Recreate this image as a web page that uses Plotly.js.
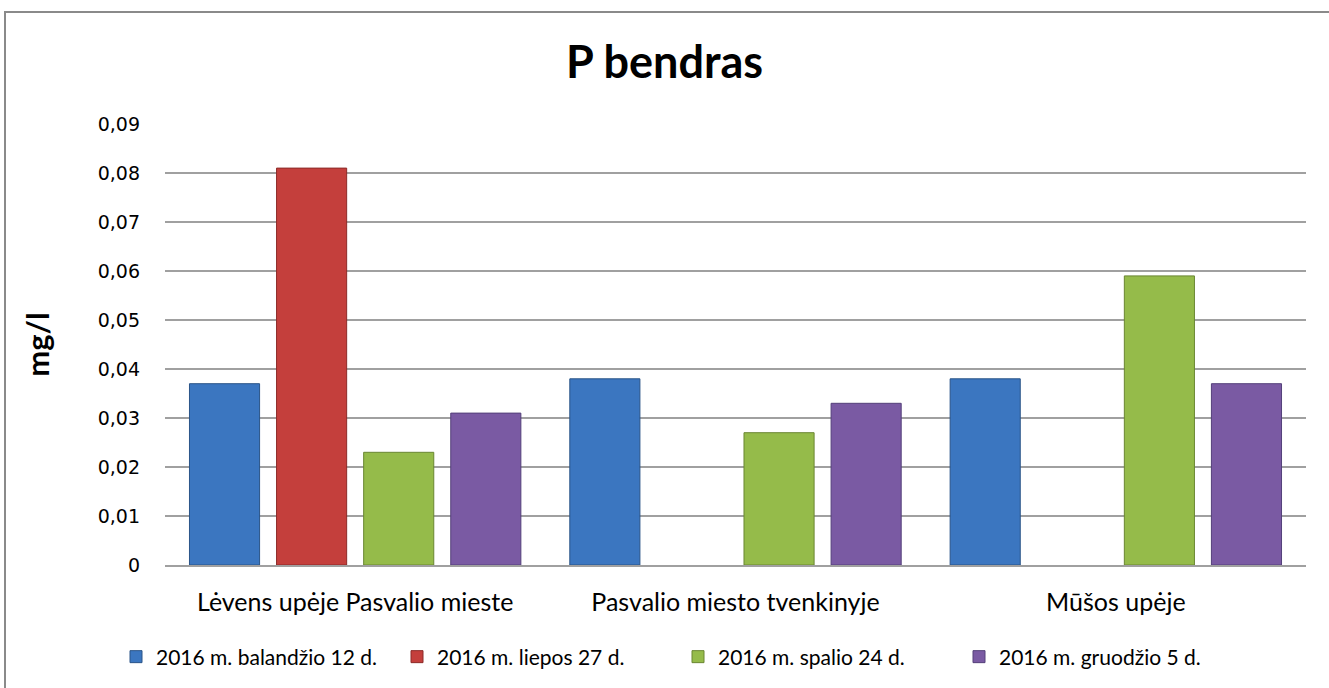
<!DOCTYPE html>
<html>
<head>
<meta charset="utf-8">
<script src="https://cdn.plot.ly/plotly-3.0.1.min.js"></script>
<style>
  html, body { margin: 0; padding: 0; background: #fff; overflow: hidden; }
  #chart { width: 1329px; height: 688px; }
  #frame { position: absolute; left: 4px; top: 11px; width: 1400px; height: 800px;
           border: 2px solid #8a8a8a; pointer-events: none; box-sizing: border-box; }
</style>
</head>
<body>
<div id="chart"></div>
<div id="frame"></div>
<script>
const categories = ["Lėvens upėje Pasvalio mieste", "Pasvalio miesto tvenkinyje", "Mūšos upėje"];
const seriesNames = ["2016 m. balandžio 12 d.", "2016 m. liepos 27 d.", "2016 m. spalio 24 d.", "2016 m. gruodžio 5 d."];
const balandzio = [0.037, 0.038, 0.038];
const liepos = [0.081, null, null];
const spalio = [0.023, 0.027, 0.059];
const gruodzio = [0.031, 0.033, 0.037];
const yTickVals = [0, 0.01, 0.02, 0.03, 0.04, 0.05, 0.06, 0.07, 0.08, 0.09];
const yTickText = ["0", "0,01", "0,02", "0,03", "0,04", "0,05", "0,06", "0,07", "0,08", "0,09"];

const fills = ["#3b76c0", "#c43f3c", "#95bb4a", "#7a5aa3"];
const edges = ["#2a5488", "#8c2a28", "#6a8632", "#54407a"];
const values = [balandzio, liepos, spalio, gruodzio];

const traces = values.map((v, i) => ({
  type: "bar",
  name: seriesNames[i],
  x: categories,
  y: v,
  marker: { color: fills[i], line: { color: edges[i], width: 1 } },
  hoverinfo: "skip"
}));

const layout = {
  width: 1329, height: 688,
  margin: { l: 165, r: 23, t: 124, b: 123 },
  paper_bgcolor: "#ffffff", plot_bgcolor: "#ffffff",
  separators: ",.",
  barmode: "group",
  bargap: 0.084,
  bargroupgap: 0.195,
  font: { family: "Lato, 'Open Sans', sans-serif", color: "#000" },
  title: {
    text: "<b>P bendras</b>",
    font: { family: "Lato, 'Open Sans', sans-serif", size: 45, color: "#000" },
    x: 0.5, xref: "container", xanchor: "center",
    y: 1 - 62 / 688, yref: "container", yanchor: "middle"
  },
  xaxis: {
    type: "category",
    showgrid: false,
    showline: true, linecolor: "#a0a0a0", linewidth: 1.5,
    ticks: "",
    tickfont: { family: "Lato, 'Open Sans', sans-serif", size: 25, color: "#000" },
    ticklabelstandoff: 14,
    fixedrange: true
  },
  yaxis: {
    range: [0, 0.09],
    tickvals: yTickVals,
    ticktext: yTickText,
    showgrid: true, gridcolor: "#a0a0a0", gridwidth: 1.5,
    zeroline: false,
    showline: false,
    ticks: "",
    tickfont: { family: "'DejaVu Sans', sans-serif", size: 19, color: "#000" },
    ticklabelstandoff: 24,
    title: { text: "<b>mg/l</b>", font: { family: "Lato, 'Open Sans', sans-serif", size: 31, color: "#000" }, standoff: 38 },
    fixedrange: true
  },
  showlegend: true,
  legend: {
    orientation: "h",
    x: 678 / 1329, xref: "container", xanchor: "center",
    y: 1 - 657 / 688, yref: "container", yanchor: "middle",
    font: { family: "Lato, 'Open Sans', sans-serif", size: 21, color: "#000" },
    itemwidth: 30,
    entrywidth: 236,
    traceorder: "normal"
  }
};

Plotly.newPlot("chart", traces, layout, { displayModeBar: false, staticPlot: true });
</script>
</body>
</html>
